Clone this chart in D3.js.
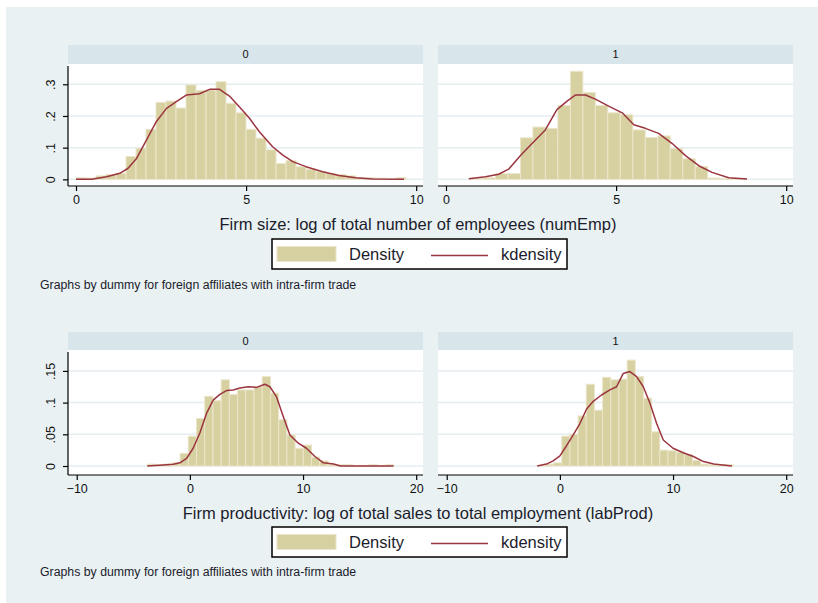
<!DOCTYPE html>
<meta charset="utf-8">
<html>
<head>
<style>
  body { margin: 0; background: #fff; }
  text { font-family: "Liberation Sans", Arial, sans-serif; fill: #111; }
</style>
</head>
<body>
<div id="chart"></div>
<script src="https://d3js.org/d3.v7.min.js"></script>
<script>
// ---- data ----
var panelLabels = ["0", "1"]

// Firm size (numEmp) histograms: bin start, bin width, densities
var sizeStart0 = 0, sizeWidth0 = 0.294
var sizeHist0 = [0.005, 0.004, 0.011, 0.015, 0.019, 0.072, 0.098, 0.158, 0.243, 0.247, 0.225,
  0.298, 0.28, 0.282, 0.308, 0.24, 0.21, 0.158, 0.13, 0.093, 0.05, 0.059, 0.04, 0.032, 0.024,
  0.019, 0.015, 0.011, 0.006, 0.005, 0.004, 0.002, 0.005]
var sizeStart1 = 0.72, sizeWidth1 = 0.367
var sizeHist1 = [0.003, 0.005, 0.018, 0.018, 0.131, 0.165, 0.161, 0.233, 0.341, 0.274, 0.233,
  0.21, 0.204, 0.156, 0.132, 0.137, 0.097, 0.065, 0.04, 0.004, 0.003, 0.003]

// kernel density curves: [x, density]
var sizeKd0 = [[0, 0], [0.46, 0], [0.9, 0.008], [1.29, 0.019], [1.53, 0.035], [1.78, 0.066],
  [2.07, 0.124], [2.36, 0.182], [2.66, 0.224], [2.95, 0.245], [3.24, 0.266], [3.63, 0.27],
  [3.93, 0.284], [4.22, 0.284], [4.51, 0.263], [4.8, 0.229], [5.1, 0.193], [5.39, 0.15],
  [5.78, 0.103], [6.07, 0.077], [6.37, 0.056], [6.76, 0.04], [7.25, 0.024], [7.73, 0.012],
  [8.22, 0.005], [8.71, 0.001], [9.64, 0]]
var sizeKd1 = [[0.67, 0.002], [1.16, 0.008], [1.55, 0.016], [1.84, 0.032], [2.19, 0.075],
  [2.53, 0.113], [2.92, 0.156], [3.26, 0.22], [3.56, 0.247], [3.8, 0.266], [4.1, 0.266],
  [4.39, 0.253], [4.78, 0.231], [5.18, 0.21], [5.52, 0.172], [5.86, 0.161], [6.25, 0.145],
  [6.65, 0.113], [7.04, 0.075], [7.43, 0.043], [7.82, 0.022], [8.31, 0.005], [8.85, 0.001]]

// Firm productivity (labProd)
var prodStart0 = -3.77, prodWidth0 = 0.726
var prodHist0 = [0.003, 0.002, 0.003, 0.005, 0.02, 0.047, 0.075, 0.11, 0.103, 0.136, 0.113,
  0.12, 0.12, 0.125, 0.141, 0.115, 0.073, 0.049, 0.028, 0.033, 0.014, 0.008, 0.003, 0.002,
  0.002, 0.001, 0.001, 0.002, 0.001, 0.002]
var prodStart1 = -2.0, prodWidth1 = 0.722
var prodHist1 = [0.001, 0.003, 0.005, 0.047, 0.05, 0.079, 0.129, 0.088, 0.14, 0.136, 0.137,
  0.167, 0.141, 0.107, 0.054, 0.025, 0.024, 0.022, 0.018, 0.009, 0.003, 0.002, 0.002, 0.002]

var prodKd0 = [[-3.77, 0], [-2.36, 0.0016], [-1.47, 0.0026], [-0.88, 0.005], [-0.29, 0.012],
  [0.29, 0.028], [0.88, 0.052], [1.47, 0.083], [2.06, 0.104], [2.65, 0.113], [3.24, 0.119],
  [3.83, 0.12], [4.42, 0.123], [5.16, 0.125], [5.89, 0.124], [6.63, 0.129], [7.07, 0.125],
  [7.66, 0.109], [8.25, 0.078], [8.84, 0.049], [9.58, 0.036], [10.3, 0.028], [11.05, 0.015],
  [11.8, 0.005], [12.7, 0.003], [13.3, 0], [14.7, 0], [18.0, 0]]
var prodKd1 = [[-2.0, 0], [-1.18, 0.003], [-0.59, 0.008], [0, 0.016], [0.59, 0.032],
  [1.18, 0.049], [1.77, 0.067], [2.36, 0.09], [2.95, 0.102], [3.68, 0.112], [4.42, 0.12],
  [5.01, 0.125], [5.6, 0.146], [6.19, 0.149], [6.78, 0.141], [7.37, 0.125], [7.96, 0.099],
  [8.55, 0.067], [9.14, 0.041], [10.0, 0.028], [10.9, 0.021], [11.8, 0.015], [12.7, 0.007],
  [13.6, 0.003], [15.2, 0]]

var sizeXTicks = [0, 5, 10], sizeYTicks = [0, 0.1, 0.2, 0.3]
var prodXTicks = [-10, 0, 10, 20], prodYTicks = [0, 0.05, 0.1, 0.15]

var sizeTitle = "Firm size: log of total number of employees (numEmp)"
var prodTitle = "Firm productivity: log of total sales to total employment (labProd)"
var byNote = "Graphs by dummy for foreign affiliates with intra-firm trade"
var legendLabels = ["Density", "kdensity"]

// ---- layout ----
var W = 818, H = 603
var bg = "#e9f1f3", stripCol = "#d8e5eb", gridCol = "#e4edf0"
var barCol = "#d7d0a0", barEdge = "#ebe6cb", lineCol = "#9b3540"
var panelX = [[68, 423], [438, 793]]

var groups = [
  {top: 45, plotTop: 64, axisY: 186, xDom: [-0.235, 10.2], yDom: [-0.021, 0.364],
   xTicks: sizeXTicks, yTicks: sizeYTicks, title: sizeTitle, legendY: 239, noteY: 285,
   hist: [[sizeStart0, sizeWidth0, sizeHist0], [sizeStart1, sizeWidth1, sizeHist1]],
   kd: [sizeKd0, sizeKd1]},
  {top: 332, plotTop: 350, axisY: 475, xDom: [-10.77, 20.6], yDom: [-0.0142, 0.183],
   xTicks: prodXTicks, yTicks: prodYTicks, title: prodTitle, legendY: 527, noteY: 572,
   hist: [[prodStart0, prodWidth0, prodHist0], [prodStart1, prodWidth1, prodHist1]],
   kd: [prodKd0, prodKd1]}
]

var svg = d3.select("#chart").append("svg")
  .attr("width", W).attr("height", H)

svg.append("rect").attr("x", 6).attr("y", 7)
  .attr("width", W - 6).attr("height", H - 7).style("fill", bg)

var fmt = function(d) { return d === 0 ? "0" : String(d).replace(/^0/, "") }

groups.forEach(function(g) {
  var y = d3.scaleLinear().domain(g.yDom).range([g.axisY, g.plotTop])

  panelX.forEach(function(px, p) {
    var x = d3.scaleLinear().domain(g.xDom).range(px)
    var pg = svg.append("g")

    // strip
    pg.append("rect").attr("x", px[0]).attr("y", g.top)
      .attr("width", px[1] - px[0]).attr("height", g.plotTop - g.top).style("fill", stripCol)
    pg.append("text").attr("x", (px[0] + px[1]) / 2).attr("y", (g.top + g.plotTop) / 2)
      .attr("dy", "0.35em").attr("text-anchor", "middle").style("font-size", "11px")
      .text(panelLabels[p])

    // plot region
    pg.append("rect").attr("x", px[0]).attr("y", g.plotTop)
      .attr("width", px[1] - px[0]).attr("height", g.axisY - g.plotTop).style("fill", "#fff")

    pg.selectAll(".grid").data(g.yTicks).enter().append("line")
      .attr("x1", px[0]).attr("x2", px[1])
      .attr("y1", function(d) { return y(d) }).attr("y2", function(d) { return y(d) })
      .style("stroke", gridCol).style("stroke-width", 1.5)

    // histogram
    var h = g.hist[p]
    pg.selectAll(".bar").data(h[2]).enter().append("rect")
      .attr("x", function(d, i) { return x(h[0] + i * h[1]) })
      .attr("width", function(d, i) { return x(h[0] + (i + 1) * h[1]) - x(h[0] + i * h[1]) })
      .attr("y", function(d) { return y(d) })
      .attr("height", function(d) { return y(0) - y(d) })
      .style("fill", barCol).style("stroke", barEdge).style("stroke-width", 1)

    // kernel density
    pg.append("path").datum(g.kd[p])
      .attr("d", d3.line().x(function(d) { return x(d[0]) }).y(function(d) { return y(d[1]) }))
      .style("fill", "none").style("stroke", lineCol).style("stroke-width", 1.5)
      .style("stroke-linejoin", "round")

    // x axis
    var xa = pg.append("g").attr("transform", "translate(0," + g.axisY + ")")
      .call(d3.axisBottom(x).tickValues(g.xTicks).tickSize(5).tickSizeOuter(0).tickFormat(d3.format("d")))
    xa.select(".domain").attr("d", "M" + px[0] + ",0H" + px[1])
    xa.selectAll("line, path").style("stroke", "#000").style("stroke-width", 1.2)
    xa.selectAll("text").attr("y", 9).style("font-size", "12.5px").style("fill", "#111")
      .style("font-family", "Liberation Sans, Arial, sans-serif")

    // y axis (left panel only)
    if (p === 0) {
      var ya = pg.append("g").attr("transform", "translate(" + px[0] + ",0)")
        .call(d3.axisLeft(y).tickValues(g.yTicks).tickSize(5).tickSizeOuter(0).tickFormat(fmt))
      ya.select(".domain").attr("d", "M0," + (g.plotTop + 2) + "V" + g.axisY)
      ya.selectAll("line, path").style("stroke", "#000").style("stroke-width", 1.2)
      ya.selectAll(".tick text")
        .attr("transform", "rotate(-90)").attr("x", 0).attr("y", -13).attr("dy", 0)
        .attr("text-anchor", "middle").style("font-size", "12.5px").style("fill", "#111")
        .style("font-family", "Liberation Sans, Arial, sans-serif")
    }
  })

  // x axis title
  svg.append("text").attr("x", 418).attr("y", g.axisY + 38).attr("dy", "0.35em")
    .attr("text-anchor", "middle").style("font-size", "16.5px").style("fill", "#1c1c2c")
    .text(g.title)

  // legend
  var lg = svg.append("g").attr("transform", "translate(272," + g.legendY + ")")
  lg.append("rect").attr("width", 295).attr("height", 30)
    .style("fill", "#fff").style("stroke", "#000").style("stroke-width", 1.5)
  lg.append("rect").attr("x", 5).attr("y", 7.5).attr("width", 59).attr("height", 15)
    .style("fill", barCol).style("stroke", barEdge)
  lg.append("text").attr("x", 77).attr("y", 15).attr("dy", "0.35em")
    .style("font-size", "16.5px").style("fill", "#1c1c2c").text(legendLabels[0])
  lg.append("line").attr("x1", 159).attr("x2", 216).attr("y1", 16.5).attr("y2", 16.5)
    .style("stroke", lineCol).style("stroke-width", 1.5)
  lg.append("text").attr("x", 229).attr("y", 15).attr("dy", "0.35em")
    .style("font-size", "16.5px").style("fill", "#1c1c2c").text(legendLabels[1])

  // note
  svg.append("text").attr("x", 40).attr("y", g.noteY).attr("dy", "0.35em")
    .style("font-size", "12.3px").style("fill", "#1c1c2c").text(byNote)
})
</script>
</body>
</html>
